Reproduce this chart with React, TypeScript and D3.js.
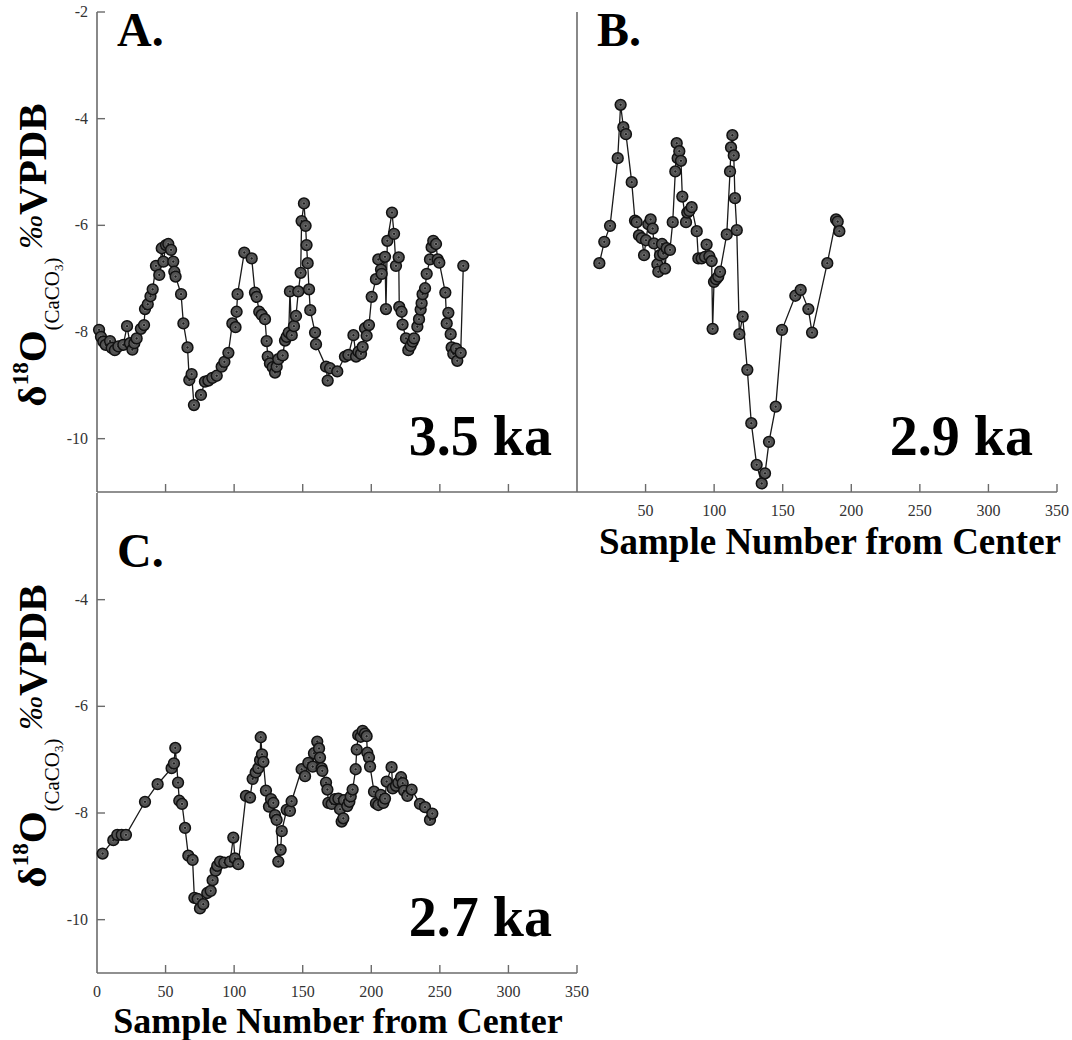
import React from "react";
import * as d3 from "d3";

// ---------------- data ----------------
const xTickValues = [0, 50, 100, 150, 200, 250, 300, 350];
const yTickValues = [-2, -4, -6, -8, -10];

const sampleA = [1.5, 2.9, 4.6, 6.3, 9.5, 10.7, 13, 15.6, 19.2, 21.9, 24, 25.8, 27.2, 28.9, 32, 34.3, 35, 37, 39, 40.6, 43, 45.4, 47.2, 48.4, 50.3, 52, 54, 55.6, 56.4, 57.3, 61.3, 63, 66, 67.3, 69, 70.7, 75.8, 78.7, 81.2, 84.1, 87.3, 90.9, 92.9, 95.8, 98.7, 101, 101.8, 102.5, 107.4, 112.8, 115.2, 116.4, 118.3, 120.1, 122.5, 123.7, 124.5, 126.1, 128.1, 129.8, 131, 132.2, 135.4, 137.1, 138.3, 139.8, 140.7, 142, 143.6, 145.1, 146.8, 148.5, 149.2, 150.9, 152.1, 152.8, 153.6, 154.6, 155.5, 159, 159.7, 167, 168.2, 169.9, 175.2, 180.8, 183.3, 187, 188.9, 190.6, 192.5, 193.7, 195.4, 196.6, 198.3, 200.3, 203.4, 205.1, 207.1, 207.6, 210, 210.7, 211.7, 215.1, 216.6, 218, 220, 220.4, 222.1, 222.8, 225.3, 227, 228.7, 230.2, 231.2, 233.6, 234.8, 236, 236.7, 237.4, 239.2, 240.4, 242.8, 244, 245.2, 247.2, 248.4, 249.6, 254, 255, 256.2, 257.9, 258.6, 259.8, 261.8, 262.7, 265.2, 267.1];
const d18OA = [-7.96, -8.09, -8.18, -8.24, -8.17, -8.3, -8.34, -8.27, -8.24, -7.89, -8.21, -8.33, -8.21, -8.12, -7.94, -7.87, -7.57, -7.48, -7.33, -7.2, -6.76, -6.93, -6.43, -6.68, -6.37, -6.35, -6.46, -6.68, -6.87, -6.96, -7.29, -7.84, -8.29, -8.9, -8.79, -9.37, -9.18, -8.93, -8.91, -8.86, -8.82, -8.65, -8.56, -8.39, -7.84, -7.91, -7.62, -7.29, -6.51, -6.62, -7.26, -7.34, -7.62, -7.68, -7.76, -8.17, -8.46, -8.59, -8.66, -8.76, -8.65, -8.51, -8.44, -8.16, -8.09, -8.01, -7.24, -8.06, -7.89, -7.7, -7.24, -6.89, -5.92, -5.59, -6.01, -6.37, -6.71, -7.2, -7.59, -8.01, -8.23, -8.65, -8.91, -8.68, -8.74, -8.46, -8.43, -8.06, -8.46, -8.37, -8.41, -8.28, -7.93, -8.07, -7.87, -7.34, -7.01, -6.64, -6.83, -6.91, -6.59, -7.57, -6.29, -5.76, -6.16, -6.76, -6.6, -7.53, -7.62, -7.86, -8.12, -8.34, -8.26, -8.18, -8.12, -7.9, -7.76, -7.58, -7.46, -7.29, -7.18, -6.91, -6.64, -6.41, -6.29, -6.35, -6.64, -6.7, -7.26, -7.84, -7.64, -8.04, -8.29, -8.41, -8.31, -8.54, -8.39, -6.76];

const sampleB = [16.3, 19.9, 24.1, 29.7, 31.8, 33.8, 35.7, 39.9, 42.3, 43.5, 45.2, 47.2, 48.9, 50.3, 52, 53.7, 55.2, 56.1, 58.6, 59.3, 60.5, 62, 62.9, 64.2, 65.4, 67.8, 69.8, 71.7, 72.7, 73.4, 74.6, 75.8, 76.8, 79.5, 80.4, 81.9, 83.6, 87.3, 88.5, 90.9, 93.3, 94.5, 96.5, 98.2, 98.9, 99.9, 101.4, 103, 104.3, 109.2, 111.6, 112.3, 113.3, 114.3, 115.2, 116.5, 118.4, 120.8, 124.2, 127.1, 131, 134.7, 137.1, 140, 144.9, 149.5, 159.2, 163.1, 168.7, 171.4, 182.5, 188.9, 190.1, 191.3];
const d18OB = [-6.71, -6.31, -6.01, -4.74, -3.74, -4.16, -4.29, -5.19, -5.91, -5.94, -6.19, -6.24, -6.56, -6.28, -5.98, -5.89, -6.06, -6.34, -6.73, -6.87, -6.56, -6.35, -6.53, -6.81, -6.43, -6.46, -5.94, -4.99, -4.46, -4.74, -4.61, -4.79, -5.46, -5.94, -5.76, -5.73, -5.66, -6.11, -6.62, -6.62, -6.59, -6.36, -6.58, -6.67, -7.94, -7.06, -7.01, -6.96, -6.87, -6.17, -4.99, -4.54, -4.31, -4.69, -5.49, -6.09, -8.04, -7.71, -8.71, -9.71, -10.49, -10.84, -10.65, -10.06, -9.4, -7.96, -7.32, -7.21, -7.57, -8.01, -6.71, -5.89, -5.93, -6.11];

const sampleC = [4.1, 11.9, 14.8, 18, 21.1, 35, 44.2, 54.4, 56.1, 57.1, 59.1, 60, 62, 64.2, 66.6, 69.7, 71, 73.4, 75.1, 77.5, 80.4, 82.9, 84.3, 86.5, 87.7, 89.7, 92.8, 97, 99.4, 100.6, 103, 108.6, 111.6, 113.5, 115.7, 117.6, 118.9, 119.4, 120.3, 121.3, 123.2, 125.4, 126.9, 128.6, 129.8, 131, 132.2, 133.9, 134.7, 138.3, 140.7, 141.9, 149.2, 151.7, 154.1, 157.3, 158.2, 160.6, 161.9, 162.6, 163.8, 164.3, 167, 168, 168.7, 171.1, 173.5, 176, 177.2, 178.4, 179.6, 180.1, 182.5, 184, 185, 186.4, 188.6, 189.4, 190.5, 192.3, 193.7, 195.4, 196.6, 197.1, 198.3, 199.1, 202, 203.4, 205.1, 206.9, 208.8, 210, 211.2, 214.8, 215.6, 218, 219.7, 221.7, 222.9, 223.9, 226.3, 229.4, 235.5, 239.2, 242.8, 244.5];
const d18OC = [-8.76, -8.51, -8.41, -8.41, -8.41, -7.79, -7.46, -7.16, -7.07, -6.78, -7.43, -7.77, -7.83, -8.28, -8.8, -8.88, -9.59, -9.61, -9.79, -9.71, -9.5, -9.46, -9.26, -9.08, -8.99, -8.91, -8.93, -8.91, -8.46, -8.85, -8.96, -7.68, -7.71, -7.36, -7.24, -7.16, -7.01, -6.58, -6.9, -7.04, -7.58, -7.88, -7.74, -7.81, -8.04, -8.13, -8.91, -8.69, -8.34, -7.94, -7.96, -7.78, -7.18, -7.31, -7.06, -7.13, -6.88, -6.66, -6.79, -6.96, -7.16, -7.21, -7.43, -7.56, -7.81, -7.83, -7.74, -7.73, -7.93, -8.16, -8.1, -7.76, -7.87, -7.79, -7.69, -7.56, -7.18, -6.81, -6.54, -6.57, -6.46, -6.51, -6.56, -6.87, -6.96, -7.13, -7.6, -7.82, -7.85, -7.66, -7.81, -7.73, -7.41, -7.14, -7.54, -7.49, -7.43, -7.33, -7.44, -7.58, -7.68, -7.56, -7.83, -7.89, -8.13, -8.01];

// ---------------- layout ----------------
const FONT = "'Liberation Serif', 'Times New Roman', Times, 'DejaVu Serif', serif";
const AXIS_COLOR = "#6b6b6b";

const xTop = d3.scaleLinear().domain([0, 350]).range([97, 577]);
const xRight = d3.scaleLinear().domain([0, 350]).range([577, 1057]);
const yTop = d3.scaleLinear().domain([-11, -2]).range([492, 12]);
const yBottom = d3.scaleLinear().domain([-11, -2]).range([973, 493]);

type Scale = d3.ScaleLinear<number, number>;

function Series({ xs, ys, x, y }: { xs: number[]; ys: number[]; x: Scale; y: Scale }) {
  const pts: [number, number][] = xs.map((v, i) => [v, ys[i]]);
  const line = d3
    .line<[number, number]>()
    .x((d) => x(d[0]))
    .y((d) => y(d[1]));
  return (
    <g>
      <path d={line(pts) || ""} fill="none" stroke="#1a1a1a" strokeWidth={1.3} />
      {pts.map((d, i) => (
        <g key={i}>
          <circle cx={x(d[0])} cy={y(d[1])} r={5.4} fill="#525252" stroke="#111" strokeWidth={1.5} />
          <circle cx={x(d[0])} cy={y(d[1])} r={1.6} fill="#1c1c1c" stroke="#8a8a8a" strokeWidth={0.7} />
        </g>
      ))}
    </g>
  );
}

function YAxis({ y, x0, ticks, labels }: { y: Scale; x0: number; ticks: number[]; labels: boolean }) {
  const [r0, r1] = y.range();
  return (
    <g>
      <line x1={x0} x2={x0} y1={r1} y2={r0} stroke={AXIS_COLOR} strokeWidth={1.6} />
      {ticks.map((t) => (
        <g key={t}>
          <line x1={x0} x2={x0 + 8} y1={y(t)} y2={y(t)} stroke={AXIS_COLOR} strokeWidth={1.4} />
          {labels && (
            <text x={x0 - 9} y={y(t) + 5} textAnchor="end" fontSize={16} fill="#333">
              {t}
            </text>
          )}
        </g>
      ))}
    </g>
  );
}

function XAxis({ x, y0, ticks, labels }: { x: Scale; y0: number; ticks: number[]; labels: number[] }) {
  const [r0, r1] = x.range();
  return (
    <g>
      <line x1={r0} x2={r1} y1={y0} y2={y0} stroke={AXIS_COLOR} strokeWidth={1.6} />
      {ticks.map((t) => (
        <line key={t} x1={x(t)} x2={x(t)} y1={y0} y2={y0 - 8} stroke={AXIS_COLOR} strokeWidth={1.4} />
      ))}
      {labels.map((t) => (
        <text key={"l" + t} x={x(t)} y={y0 + 24} textAnchor="middle" fontSize={16} fill="#333">
          {t}
        </text>
      ))}
    </g>
  );
}

function YTitle({ cx, cy }: { cx: number; cy: number }) {
  return (
    <text
      transform={`translate(${cx},${cy}) rotate(-90)`}
      textAnchor="middle"
      fontWeight="bold"
      fontSize={41}
      fill="#000"
    >
      <tspan>δ</tspan>
      <tspan fontSize={23} dy={-18}>18</tspan>
      <tspan dy={18}>O</tspan>
      <tspan fontSize={21} fontWeight="normal" dy={13}>(CaCO</tspan>
      <tspan fontSize={13} fontWeight="normal" dy={4}>3</tspan>
      <tspan fontSize={21} fontWeight="normal" dy={-4}>)</tspan>
      <tspan fontStyle="italic" fontWeight="normal" fontSize={34} dy={-17}> ‰</tspan>
      <tspan dy={4}>VPDB</tspan>
    </text>
  );
}

function Big({ x, y, children, anchor = "start", size = 48 }: any) {
  return (
    <text x={x} y={y} textAnchor={anchor} fontWeight="bold" fontSize={size} fill="#000">
      {children}
    </text>
  );
}

export default function App() {
  const inner = xTickValues.filter((t) => t > 0 && t < 350);
  return (
    <svg
      width={1072}
      height={1040}
      fontFamily={FONT}
      style={{ position: "absolute", left: 0, top: 0, background: "#fff", fontFamily: FONT }}
    >
      <rect width={1072} height={1040} fill="#fff" />
      {/* Panel A */}
      <YAxis y={yTop} x0={97} ticks={yTickValues} labels={true} />
      <XAxis x={xTop} y0={492} ticks={inner} labels={[]} />
      {/* Panel B */}
      <line x1={577} x2={577} y1={12} y2={492} stroke={AXIS_COLOR} strokeWidth={1.6} />
      <XAxis x={xRight} y0={492} ticks={xTickValues.filter((t) => t > 0)} labels={xTickValues.filter((t) => t > 0)} />
      {/* Panel C */}
      <YAxis y={yBottom} x0={97} ticks={yTickValues.filter((t) => t < -2)} labels={true} />
      <XAxis x={xTop.copy()} y0={973} ticks={xTickValues.filter((t) => t > 0)} labels={xTickValues} />

      <Series xs={sampleA} ys={d18OA} x={xTop} y={yTop} />
      <Series xs={sampleB} ys={d18OB} x={xRight} y={yTop} />
      <Series xs={sampleC} ys={d18OC} x={xTop} y={yBottom} />

      <Big x={117} y={46}>A.</Big>
      <Big x={597} y={46}>B.</Big>
      <Big x={117} y={567}>C.</Big>
      <Big x={552} y={455} anchor="end" size={56}>3.5 ka</Big>
      <Big x={1033} y={455} anchor="end" size={56}>2.9 ka</Big>
      <Big x={552} y={936} anchor="end" size={56}>2.7 ka</Big>

      <YTitle cx={46} cy={255} />
      <YTitle cx={46} cy={736} />

      <Big x={830} y={554} anchor="middle" size={37}>Sample Number from Center</Big>
      <Big x={338} y={1033} anchor="middle" size={36}>Sample Number from Center</Big>
    </svg>
  );
}
